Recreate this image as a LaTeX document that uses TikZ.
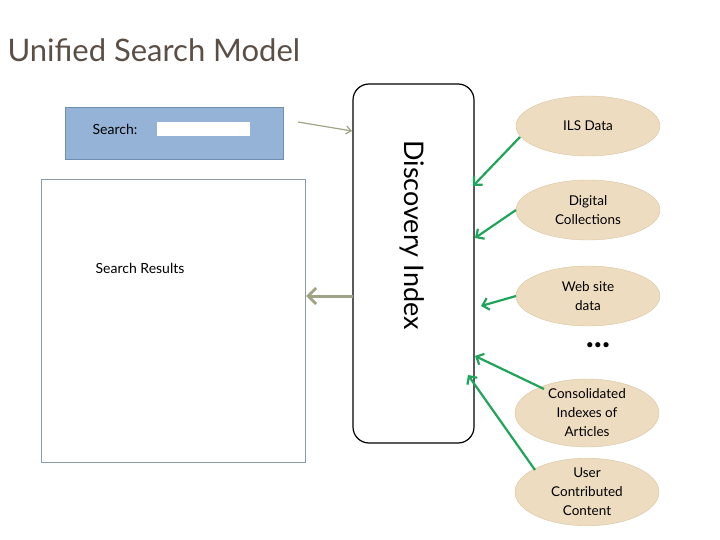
\documentclass[tikz,border=0pt]{standalone}
\usepackage{fontspec}
\setmainfont{Lato}
\usetikzlibrary{shapes.geometric,arrows.meta}
\definecolor{ttl}{HTML}{5A4E45}
\definecolor{sbox}{HTML}{95B3D7}
\definecolor{sline}{HTML}{6F8FB0}
\definecolor{gbox}{HTML}{8A9AA8}
\definecolor{olive}{HTML}{A0A384}
\definecolor{tan}{HTML}{EDDCC0}
\definecolor{tanl}{HTML}{D9C49F}
\definecolor{grn}{HTML}{1FA55A}
\tikzset{
 src/.style={ellipse,fill=tan,draw=tanl,minimum width=144pt,minimum height=60pt,inner sep=0pt,align=center,font=\fontsize{13.5}{19}\selectfont},
 garr/.style={draw=grn,line width=2.2pt,-{Straight Barb[length=6pt,width=12pt]}},
}
\begin{document}
\begin{tikzpicture}[x=1pt,y=-1pt]
\useasboundingbox (0,0) rectangle (720,540);
\node[anchor=west,text=ttl,font=\fontsize{31}{36}\selectfont] (title) at (4,50) {Unified Search Model};
\node[draw=sline,fill=sbox,minimum width=218pt,minimum height=52pt,inner sep=0pt,line width=1pt] (sb) at (174,134) {};
\node[font=\fontsize{14}{16}\selectfont] (sl) at (115,129) {Search:};
\node[fill=white,minimum width=93pt,minimum height=14pt,inner sep=0pt] (sf) at (203.5,129) {};
\node[draw=gbox,line width=1pt,minimum width=264pt,minimum height=282pt,inner sep=0pt] (res) at (173,321) {};
\node[font=\fontsize{14}{16}\selectfont] (rl) at (140,268) {Search Results};
\node[draw,line width=1.2pt,rounded corners=16pt,minimum width=121pt,minimum height=359pt,inner sep=0pt] (di) at (413.5,263.5) {};
\node[rotate=-90,font=\fontsize{27}{30}\selectfont] (dl) at (412,235) {Discovery Index};
\coordinate (a1) at (298,122);
\coordinate (a2) at (352,131);
\draw[draw=olive,line width=1.2pt,-{Straight Barb[length=5pt,width=8pt]}] (a1) -- (a2);
\coordinate (b1) at (353,296);
\coordinate (b2) at (306,296);
\draw[draw=olive,line width=3pt,-{Straight Barb[length=8pt,width=16pt]}] (b1) -- (b2);
\node[src] (ils) at (588,126) {ILS Data};
\node[src] (dig) at (588,210) {Digital\\Collections};
\node[src] (web) at (588,296) {Web site\\data};
\node[src] (con) at (587,413) {Consolidated\\Indexes of\\Articles};
\node[src] (usr) at (587,492) {User\\Contributed\\Content};
\node[font=\fontsize{34}{34}\selectfont\bfseries] (dots) at (598,345) {...};
\coordinate (t1) at (473,186);
\coordinate (t2) at (475,238);
\coordinate (t3) at (481,306);
\coordinate (t4) at (475,356);
\coordinate (t5) at (468,375);
\coordinate (s1) at (520,137);
\coordinate (s2) at (516,210);
\coordinate (s3) at (516,296);
\coordinate (s4) at (544,389);
\coordinate (s5) at (535,470);
\draw[garr] (s1) -- (t1);
\draw[garr] (s2) -- (t2);
\draw[garr] (s3) -- (t3);
\draw[garr] (s4) -- (t4);
\draw[garr] (s5) -- (t5);
\end{tikzpicture}
\end{document}
